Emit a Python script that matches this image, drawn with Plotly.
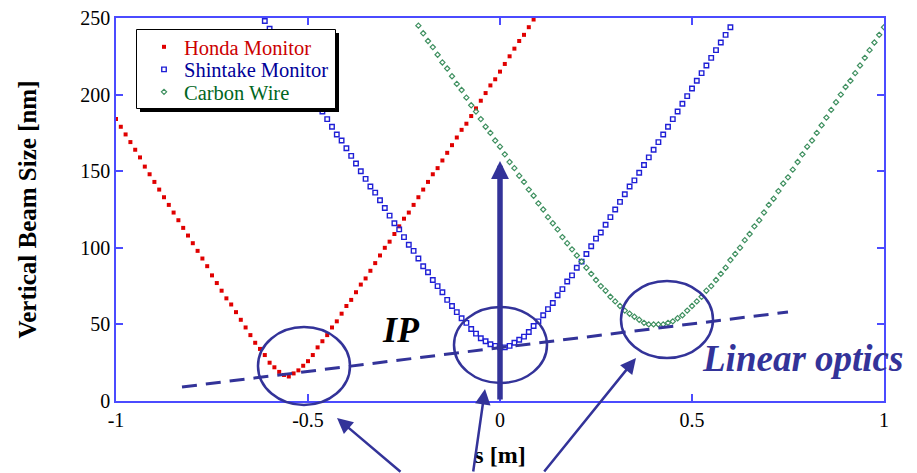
import plotly.graph_objects as go

# ---------------- data ----------------
honda_s = [-1.0, -0.9875, -0.975, -0.9625, -0.95, -0.9375, -0.925, -0.9125, -0.9, -0.8875,
           -0.875, -0.8625, -0.85, -0.8375, -0.825, -0.8125, -0.8, -0.7875, -0.775, -0.7625,
           -0.75, -0.7375, -0.725, -0.7125, -0.7, -0.6875, -0.675, -0.6625, -0.65, -0.6375,
           -0.625, -0.6125, -0.6, -0.5875, -0.575, -0.5625, -0.55, -0.5375, -0.525, -0.5125,
           -0.5, -0.4875, -0.475, -0.4625, -0.45, -0.4375, -0.425, -0.4125, -0.4, -0.3875,
           -0.375, -0.3625, -0.35, -0.3375, -0.325, -0.3125, -0.3, -0.2875, -0.275, -0.2625,
           -0.25, -0.2375, -0.225, -0.2125, -0.2, -0.1875, -0.175, -0.1625, -0.15, -0.1375,
           -0.125, -0.1125, -0.1, -0.0875, -0.075, -0.0625, -0.05, -0.0375, -0.025, -0.0125,
           0.0, 0.0125, 0.025, 0.0375, 0.05, 0.0625, 0.075, 0.0875]
honda_size = [184, 179, 174, 169, 164, 159, 153, 148, 143, 138,
              133, 128, 123, 118, 113, 108, 103, 98, 93, 88,
              82, 77, 72, 67, 63, 58, 53, 48, 43, 38,
              34, 30, 25, 22, 19, 17, 16, 18, 20, 23,
              26, 30, 35, 39, 43, 48, 52, 57, 62, 66,
              71, 76, 80, 85, 90, 95, 100, 104, 109, 114,
              119, 123, 128, 133, 138, 143, 148, 152, 157, 162,
              167, 172, 177, 181, 186, 191, 196, 201, 206, 210,
              215, 220, 225, 230, 235, 239, 244, 249]

shintake_s = [-0.6125, -0.6, -0.5875, -0.575, -0.5625, -0.55, -0.5375, -0.525, -0.5125, -0.5,
              -0.4875, -0.475, -0.4625, -0.45, -0.4375, -0.425, -0.4125, -0.4, -0.3875, -0.375,
              -0.3625, -0.35, -0.3375, -0.325, -0.3125, -0.3, -0.2875, -0.275, -0.2625, -0.25,
              -0.2375, -0.225, -0.2125, -0.2, -0.1875, -0.175, -0.1625, -0.15, -0.1375, -0.125,
              -0.1125, -0.1, -0.0875, -0.075, -0.0625, -0.05, -0.0375, -0.025, -0.0125, 0.0,
              0.0125, 0.025, 0.0375, 0.05, 0.0625, 0.075, 0.0875, 0.1, 0.1125, 0.125,
              0.1375, 0.15, 0.1625, 0.175, 0.1875, 0.2, 0.2125, 0.225, 0.2375, 0.25,
              0.2625, 0.275, 0.2875, 0.3, 0.3125, 0.325, 0.3375, 0.35, 0.3625, 0.375,
              0.3875, 0.4, 0.4125, 0.425, 0.4375, 0.45, 0.4625, 0.475, 0.4875, 0.5,
              0.5125, 0.525, 0.5375, 0.55, 0.5625, 0.575, 0.5875, 0.6]
shintake_size = [248, 243, 238, 233, 228, 223, 218, 213, 209, 204,
                 199, 194, 189, 184, 179, 174, 170, 165, 160, 155,
                 150, 145, 140, 136, 131, 126, 121, 116, 112, 107,
                 102, 98, 93, 88, 84, 79, 75, 71, 66, 62,
                 58, 54, 51, 47, 44, 41, 39, 37, 36, 35,
                 35, 36, 38, 40, 42, 45, 49, 52, 56, 60,
                 64, 69, 73, 78, 82, 87, 91, 96, 101, 106,
                 110, 115, 120, 125, 130, 135, 140, 144, 149, 154,
                 159, 164, 169, 174, 179, 184, 189, 194, 199, 204,
                 209, 214, 219, 224, 229, 234, 239, 244]

carbon_s = [-0.2125, -0.2, -0.1875, -0.175, -0.1625, -0.15, -0.1375, -0.125, -0.1125, -0.1,
            -0.0875, -0.075, -0.0625, -0.05, -0.0375, -0.025, -0.0125, 0.0, 0.0125, 0.025,
            0.0375, 0.05, 0.0625, 0.075, 0.0875, 0.1, 0.1125, 0.125, 0.1375, 0.15,
            0.1625, 0.175, 0.1875, 0.2, 0.2125, 0.225, 0.2375, 0.25, 0.2625, 0.275,
            0.2875, 0.3, 0.3125, 0.325, 0.3375, 0.35, 0.3625, 0.375, 0.3875, 0.4,
            0.4125, 0.425, 0.4375, 0.45, 0.4625, 0.475, 0.4875, 0.5, 0.5125, 0.525,
            0.5375, 0.55, 0.5625, 0.575, 0.5875, 0.6, 0.6125, 0.625, 0.6375, 0.65,
            0.6625, 0.675, 0.6875, 0.7, 0.7125, 0.725, 0.7375, 0.75, 0.7625, 0.775,
            0.7875, 0.8, 0.8125, 0.825, 0.8375, 0.85, 0.8625, 0.875, 0.8875, 0.9,
            0.9125, 0.925, 0.9375, 0.95, 0.9625, 0.975, 0.9875, 1.0]
carbon_size = [245, 240, 235, 231, 226, 221, 217, 212, 207, 203,
               198, 193, 189, 184, 179, 175, 170, 166, 161, 156,
               152, 147, 143, 138, 134, 129, 125, 120, 116, 112,
               107, 103, 99, 95, 91, 87, 83, 79, 75, 72,
               68, 65, 62, 59, 57, 55, 53, 51, 50, 50,
               50, 50, 51, 52, 54, 56, 59, 62, 65, 68,
               72, 75, 79, 83, 87, 92, 96, 100, 105, 109,
               114, 118, 123, 128, 132, 137, 142, 146, 151, 156,
               161, 166, 170, 175, 180, 185, 190, 195, 200, 205,
               209, 214, 219, 224, 229, 234, 239, 244]

x_tickvals = [-1, -0.5, 0, 0.5, 1]
x_ticktext = ["-1", "-0.5", "0", "0.5", "1"]
y_tickvals = [0, 50, 100, 150, 200, 250]
y_ticktext = ["0", "50", "100", "150", "200", "250"]

# ---------------- styling ----------------
FONT = "Liberation Serif, Times New Roman, serif"
AXIS = "#4b4bff"
NAVY = "#333399"

W, H = 917, 473
L, R, T, B = 116, 33, 18, 72
PW, PH = W - L - R, H - T - B


def px(x):  # pixel -> paper x
    return (x - L) / PW


def py(y):  # pixel -> paper y
    return (H - B - y) / PH


fig = go.Figure()
fig.add_trace(go.Scatter(
    x=honda_s, y=honda_size, mode="markers", legend="legend",
    name="<span style='color:#cc0000'>Honda Monitor</span>",
    marker=dict(symbol="square", size=4, color="#e00000")))
fig.add_trace(go.Scatter(
    x=shintake_s, y=shintake_size, mode="markers", legend="legend2",
    name="<span style='color:#000099'>Shintake Monitor</span>",
    marker=dict(symbol="square-open", size=4.5, color="#1f1fd6", line=dict(width=1.4))))
fig.add_trace(go.Scatter(
    x=carbon_s, y=carbon_size, mode="markers", legend="legend3",
    name="<span style='color:#006622'>Carbon Wire</span>",
    marker=dict(symbol="diamond-open", size=4, color="#3f9060", line=dict(width=1.2))))

axis_common = dict(showline=True, linecolor=AXIS, linewidth=1.5, mirror="ticks",
                   ticks="inside", ticklen=7, tickwidth=1.5, tickcolor=AXIS,
                   showgrid=False, zeroline=False, automargin=False,
                   tickfont=dict(family=FONT, size=20, color="black"))

fig.update_xaxes(range=[-1, 1], tickmode="array", tickvals=x_tickvals, ticktext=x_ticktext,
                 title=dict(text="s [m]", font=dict(family=FONT, size=24, color="black", weight="bold"),
                            standoff=16),
                 **axis_common)
fig.update_yaxes(range=[0, 250], tickmode="array", tickvals=y_tickvals, ticktext=y_ticktext,
                 title=dict(text="Vertical Beam Size [nm]",
                            font=dict(family=FONT, size=25, color="black", weight="bold"),
                            standoff=37),
                 **axis_common)

shapes = []
# legend drop shadow and box
shapes.append(dict(type="rect", xref="paper", yref="paper",
                   x0=px(140), x1=px(339), y0=py(112), y1=py(33),
                   fillcolor="black", line=dict(width=0), layer="above"))
shapes.append(dict(type="rect", xref="paper", yref="paper",
                   x0=px(136.5), x1=px(335.5), y0=py(108.5), y1=py(29.5),
                   fillcolor="white", line=dict(color="black", width=1), layer="above"))
# dashed "linear optics" line
shapes.append(dict(type="line", xref="paper", yref="paper",
                   x0=px(182), y0=py(387), x1=px(788), y1=py(312),
                   line=dict(color=NAVY, width=3, dash="15px,9px")))
# ellipses around the minima
for (x0, x1, y0, y1) in [(258, 350, 405, 327), (454, 547, 383, 307), (621, 713, 358, 281)]:
    shapes.append(dict(type="circle", xref="paper", yref="paper",
                       x0=px(x0), x1=px(x1), y0=py(y0), y1=py(y1),
                       line=dict(color=NAVY, width=2.5)))

annotations = [
    # big vertical IP arrow
    dict(xref="paper", yref="paper", x=px(500), y=py(161), ax=0, ay=240, text="",
         showarrow=True, arrowhead=2, arrowsize=0.65, arrowwidth=5.5, arrowcolor=NAVY),
    # thin arrows from below
    dict(xref="paper", yref="paper", x=px(337), y=py(418), ax=65, ay=55, text="",
         showarrow=True, arrowhead=2, arrowsize=1.25, arrowwidth=2.5, arrowcolor=NAVY),
    dict(xref="paper", yref="paper", x=px(485), y=py(389), ax=-12, ay=84, text="",
         showarrow=True, arrowhead=2, arrowsize=1.25, arrowwidth=2.5, arrowcolor=NAVY),
    dict(xref="paper", yref="paper", x=px(636), y=py(358), ax=-93, ay=115, text="",
         showarrow=True, arrowhead=2, arrowsize=1.25, arrowwidth=2.5, arrowcolor=NAVY),
    dict(xref="paper", yref="paper", x=px(401), y=py(330), text="IP", showarrow=False,
         xanchor="center", yanchor="middle",
         font=dict(family=FONT, size=36, color="black", weight="bold", style="italic")),
    dict(xref="paper", yref="paper", x=px(802), y=py(358), text="Linear optics", showarrow=False,
         xanchor="center", yanchor="middle",
         font=dict(family=FONT, size=37, color=NAVY, weight="bold", style="italic")),
]

leg_common = dict(xanchor="left", yanchor="middle", bgcolor="rgba(0,0,0,0)",
                  borderwidth=0, font=dict(family=FONT, size=20.5), itemsizing="trace")

fig.update_layout(
    width=W, height=H, margin=dict(l=L, r=R, t=T, b=B, autoexpand=False),
    plot_bgcolor="white", paper_bgcolor="white",
    font=dict(family=FONT, size=20, color="black"),
    showlegend=True,
    legend=dict(x=px(144), y=py(47), **leg_common),
    legend2=dict(x=px(144), y=py(69.5), **leg_common),
    legend3=dict(x=px(144), y=py(92), **leg_common),
    shapes=shapes, annotations=annotations,
)

fig.write_html("out.html", config={"displayModeBar": False},
               post_script="document.body.style.margin='0';")
